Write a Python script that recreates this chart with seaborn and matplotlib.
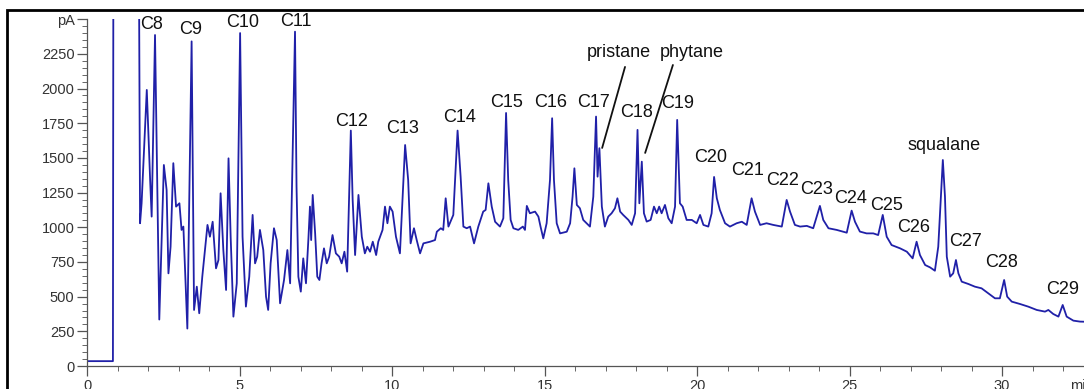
import numpy as np
import pandas as pd
import seaborn as sns
import matplotlib.pyplot as plt
from matplotlib.patches import Rectangle

# FID trace: retention time (min) and signal (pA)
time_min = [
    0.00, 0.85, 0.88, 1.64, 1.74, 1.79, 1.96, 2.07, 2.12, 2.23, 2.37, 2.52, 2.61, 2.67, 2.74,
    2.83, 2.92, 3.03, 3.10, 3.16, 3.29, 3.43, 3.51, 3.60, 3.68, 3.78, 3.95, 4.03, 4.12, 4.23,
    4.31, 4.38, 4.47, 4.56, 4.64, 4.71, 4.80, 4.91, 5.02, 5.10, 5.21, 5.32, 5.43, 5.51, 5.58,
    5.67, 5.78, 5.87, 5.94, 6.02, 6.13, 6.22, 6.33, 6.46, 6.57, 6.66, 6.82, 6.87, 6.93, 7.01,
    7.09, 7.18, 7.26, 7.31, 7.35, 7.40, 7.48, 7.55, 7.62, 7.69, 7.77, 7.86, 7.94, 8.05, 8.16,
    8.27, 8.35, 8.44, 8.53, 8.65, 8.71, 8.79, 8.90, 9.01, 9.11, 9.19, 9.28, 9.37, 9.48, 9.55,
    9.69, 9.77, 9.85, 9.93, 10.02, 10.13, 10.26, 10.43, 10.53, 10.61, 10.72, 10.81, 10.92, 11.03, 11.25,
    11.41, 11.47, 11.60, 11.68, 11.76, 11.85, 12.01, 12.15, 12.25, 12.34, 12.45, 12.56, 12.69, 12.83, 12.99,
    13.07, 13.16, 13.27, 13.38, 13.54, 13.65, 13.74, 13.81, 13.89, 13.98, 14.14, 14.29, 14.36, 14.42, 14.52,
    14.69, 14.80, 14.87, 14.96, 15.07, 15.18, 15.25, 15.31, 15.40, 15.51, 15.73, 15.84, 15.92, 15.98, 16.06,
    16.16, 16.27, 16.38, 16.49, 16.60, 16.69, 16.74, 16.80, 16.88, 16.98, 17.09, 17.20, 17.31, 17.39, 17.48,
    17.58, 17.75, 17.86, 17.97, 18.05, 18.11, 18.19, 18.26, 18.35, 18.48, 18.59, 18.68, 18.76, 18.84, 18.95,
    19.06, 19.17, 19.28, 19.35, 19.44, 19.53, 19.66, 19.83, 19.99, 20.10, 20.21, 20.37, 20.48, 20.56, 20.65,
    20.75, 20.92, 21.08, 21.30, 21.47, 21.63, 21.79, 21.90, 22.07, 22.28, 22.50, 22.78, 22.94, 23.05, 23.21,
    23.38, 23.60, 23.81, 24.03, 24.14, 24.31, 24.58, 24.91, 25.07, 25.18, 25.34, 25.56, 25.78, 25.94, 26.09,
    26.22, 26.38, 26.66, 26.88, 27.07, 27.20, 27.31, 27.48, 27.64, 27.80, 27.91, 28.06, 28.13, 28.19, 28.30,
    28.40, 28.49, 28.57, 28.68, 28.90, 29.11, 29.33, 29.55, 29.77, 29.93, 30.07, 30.17, 30.32, 30.59, 30.86,
    31.14, 31.41, 31.52, 31.68, 31.85, 31.99, 32.12, 32.34, 32.56, 32.90,
]
signal_pa = [
    35, 35, 6000, 6000, 1029, 1173, 1990, 1341, 1077, 2386, 335, 1449, 1269, 668, 860,
    1462, 1149, 1173, 981, 1005, 270, 2340, 404, 572, 380, 644, 1017, 932, 1040, 704,
    764, 1245, 836, 548, 1497, 932, 356, 596, 2400, 932, 428, 644, 1089, 740, 788,
    981, 836, 500, 404, 740, 993, 908, 452, 620, 836, 596, 2410, 1293, 644, 536,
    776, 596, 920, 1149, 908, 1233, 956, 644, 620, 740, 848, 740, 788, 944, 812,
    788, 740, 824, 680, 1697, 1197, 800, 1233, 932, 812, 860, 824, 896, 800, 896,
    981, 1149, 1029, 1149, 1113, 932, 812, 1593, 1341, 884, 993, 908, 812, 884, 896,
    908, 968, 993, 981, 1209, 1005, 1089, 1697, 1365, 1005, 993, 1005, 884, 1005, 1113,
    1125, 1317, 1149, 1040, 1005, 1065, 1824, 1341, 1053, 993, 981, 1005, 981, 1154, 1101,
    1113, 1077, 1005, 920, 1029, 1341, 1786, 1341, 1029, 956, 968, 1029, 1221, 1425, 1161,
    1137, 1053, 1029, 1005, 1221, 1798, 1365, 1570, 1149, 1005, 1077, 1101, 1137, 1209, 1113,
    1089, 1053, 1017, 1101, 1702, 1173, 1473, 1101, 1041, 1053, 1149, 1101, 1149, 1101, 1161,
    1065, 1029, 1149, 1774, 1173, 1149, 1053, 1053, 1029, 1089, 1017, 1005, 1101, 1363, 1209,
    1125, 1029, 1005, 1029, 1040, 1017, 1209, 1113, 1017, 1029, 1017, 1005, 1197, 1113, 1017,
    1005, 1010, 993, 1154, 1053, 993, 981, 961, 1120, 1040, 969, 956, 956, 944, 1089,
    932, 872, 848, 824, 776, 896, 800, 728, 711, 687, 860, 1485, 1221, 788, 644,
    668, 764, 668, 608, 591, 572, 560, 524, 488, 488, 620, 500, 464, 447, 428,
    404, 392, 404, 375, 356, 440, 356, 327, 320, 318,
]

y_ticks = [0, 250, 500, 750, 1000, 1250, 1500, 1750, 2000, 2250, 2500]
y_tick_labels = ['0', '250', '500', '750', '1000', '1250', '1500', '1750', '2000', '2250', 'pA']
x_ticks = [0, 5, 10, 15, 20, 25, 30]

trace = pd.DataFrame({'time': time_min, 'signal': signal_pa})

sns.set_style('white')
plt.rcParams['font.family'] = ['Liberation Sans', 'DejaVu Sans']

fig = plt.figure(figsize=(10.84, 3.89), dpi=100)
# axes deliberately runs past the right edge, like the cropped original
ax = fig.add_axes([87 / 1084, 23 / 389, 1037 / 1084, 346.8 / 389])

sns.lineplot(data=trace, x='time', y='signal', ax=ax, color='#2020a8',
             linewidth=1.3, estimator=None, sort=False)

ax.set_xlim(0, 34)
ax.set_ylim(0, 2500)
ax.set_xlabel('')
ax.set_ylabel('')
ax.set_xticks(x_ticks)
ax.set_xticks(np.arange(0, 34, 1), minor=True)
ax.set_yticks(y_ticks)
ax.set_yticklabels(y_tick_labels)
ax.set_yticks(np.arange(0, 2501, 50), minor=True)
ax.tick_params(which='major', direction='out', length=7, width=0.9, color='#555555',
               labelsize=10.5, labelcolor='#333333', pad=2, bottom=True, left=True)
ax.tick_params(which='minor', direction='out', length=3.5, width=0.7, color='#666666',
               bottom=True, left=True)
for side in ['top', 'right']:
    ax.spines[side].set_visible(False)
for side in ['left', 'bottom']:
    ax.spines[side].set_color('#555555')
    ax.spines[side].set_linewidth(0.9)
ax.text(32.23, -95, 'min', ha='left', va='top', fontsize=10.5, color='#333333')

# peak names: (label, x, y)
peak_labels = [
    ('C8', 2.13, 2459), ('C9', 3.41, 2423), ('C10', 5.11, 2473), ('C11', 6.85, 2480),
    ('C12', 8.66, 1759), ('C13', 10.33, 1709), ('C14', 12.20, 1788), ('C15', 13.77, 1903),
    ('C16', 15.21, 1896), ('C17', 16.62, 1896), ('C18', 18.03, 1831), ('C19', 19.38, 1889),
    ('C20', 20.46, 1500), ('C21', 21.67, 1406), ('C22', 22.82, 1334), ('C23', 23.93, 1269),
    ('C24', 25.02, 1204), ('C25', 26.20, 1154), ('C26', 27.11, 1002), ('C27', 28.79, 901),
    ('C28', 29.97, 743), ('C29', 32.00, 548), ('squalane', 28.10, 1593),
    ('pristane', 17.44, 2257), ('phytane', 19.84, 2257),
]
for name, tx, ty in peak_labels:
    ax.text(tx, ty, name, ha='center', va='center', fontsize=13, color='#111111')

ax.plot([17.64, 16.89], [2156, 1572], color='#111111', linewidth=1.3)
ax.plot([19.21, 18.30], [2170, 1536], color='#111111', linewidth=1.3)

# outer frame of the original figure
fig.patches.append(Rectangle((6.5 / 1084, -0.1), 1.2, (379 + 38.9) / 389,
                             transform=fig.transFigure, fill=False,
                             edgecolor='black', linewidth=2))

fig.savefig('out.png', dpi=100)
